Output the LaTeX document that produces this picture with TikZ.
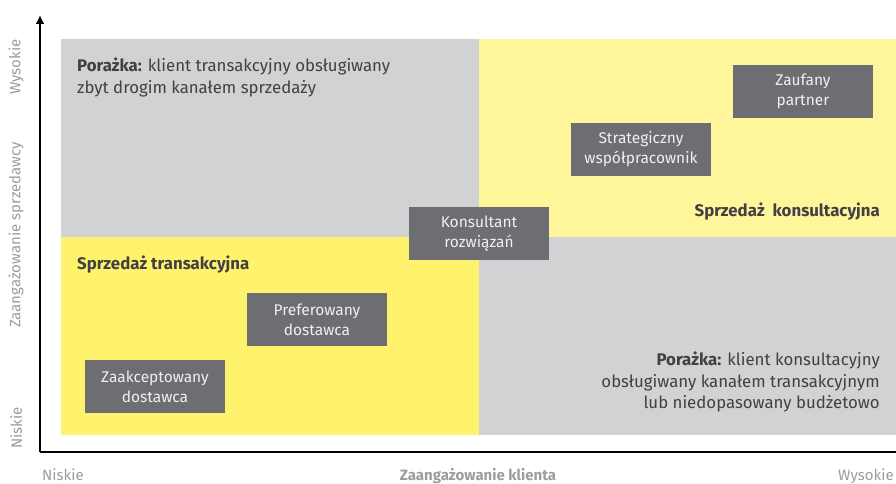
\documentclass[tikz,border=0pt]{standalone}
\usepackage{fontspec}
\setmainfont{Fira Sans}
\usetikzlibrary{arrows.meta}
\definecolor{quadGray}{HTML}{D1D2D4}
\definecolor{quadYellow}{HTML}{FFF36D}
\definecolor{quadPale}{HTML}{FFF59B}
\definecolor{boxGray}{HTML}{6D6E71}
\definecolor{titleText}{HTML}{414042}
\definecolor{axisText}{HTML}{9B9C9F}
\tikzstyle{matrixPlane} = [x = 1pt, y = -1pt]
\tikzstyle{stageStyle} = [fill=boxGray, text=white!94!black, minimum width=140pt, minimum height=53pt, inner sep=0pt, align=center, font=\fontsize{15.5}{20}\selectfont]
\tikzstyle{quadText} = [text=titleText, inner sep=0pt, font=\fontsize{16.8}{21.5}\selectfont]
\tikzstyle{axisLabel} = [text=axisText, inner sep=0pt, font=\fontsize{15}{17}\selectfont]
\tikzstyle{axisLine} = [line width=2pt, black]
\newcommand{\quadrant}[5]{\fill [#5] (#1, #2) rectangle (#3, #4);}
\newcommand{\stageBox}[4]{\node [stageStyle] (#1) at (#2 + 70, #3 + 26.5) {#4};}

\begin{document}
\begin{tikzpicture}[matrixPlane]
    \useasboundingbox (0,0) rectangle (896,484);
    \quadrant{61}{39}{479}{237}{quadGray}
    \quadrant{479}{39}{896}{237}{quadPale}
    \quadrant{61}{237}{479}{435}{quadYellow}
    \quadrant{479}{237}{896}{435}{quadGray}
    % axes
    \draw [axisLine] (896, 452) -- (40, 452);
    \draw [axisLine, -{Latex[length=9pt,width=9pt]}] (40, 452) -- (40, 15);
    % quadrant texts
    \node [quadText, anchor=north west, align=left] (failHigh) at (77, 58) {\textbf{Porażka:} klient transakcyjny obsługiwany\\zbyt drogim kanałem sprzedaży};
    \node [quadText, anchor=west] (transSale) at (77, 265) {\textbf{Sprzedaż transakcyjna}};
    \node [quadText, anchor=east] (consSale) at (880, 212) {\textbf{Sprzedaż\ \ konsultacyjna}};
    \node [quadText, anchor=north east, align=right] (failLow) at (880, 352) {\textbf{Porażka:} klient konsultacyjny\\obsługiwany kanałem transakcyjnym\\lub niedopasowany budżetowo};
    % stages
    \stageBox{accepted}{85}{360}{Zaakceptowany\\dostawca}
    \stageBox{preferred}{247}{293}{Preferowany\\dostawca}
    \stageBox{consultant}{409}{207}{Konsultant\\rozwiązań}
    \stageBox{strategic}{571}{123}{Strategiczny\\współpracownik}
    \stageBox{trusted}{733}{65}{Zaufany\\partner}
    % axis labels
    \node [axisLabel, rotate=90] (yHigh) at (16, 67) {Wysokie};
    \node [axisLabel, rotate=90] (yTitle) at (16, 235) {Zaangażowanie sprzedawcy};
    \node [axisLabel, rotate=90] (yLow) at (16, 428) {Niskie};
    \node [axisLabel, anchor=base west] (xLow) at (42, 480) {Niskie};
    \node [axisLabel, anchor=base] (xTitle) at (478, 480) {\textbf{Zaangażowanie klienta}};
    \node [axisLabel, anchor=base west] (xHigh) at (838, 480) {Wysokie};
\end{tikzpicture}
\end{document}
